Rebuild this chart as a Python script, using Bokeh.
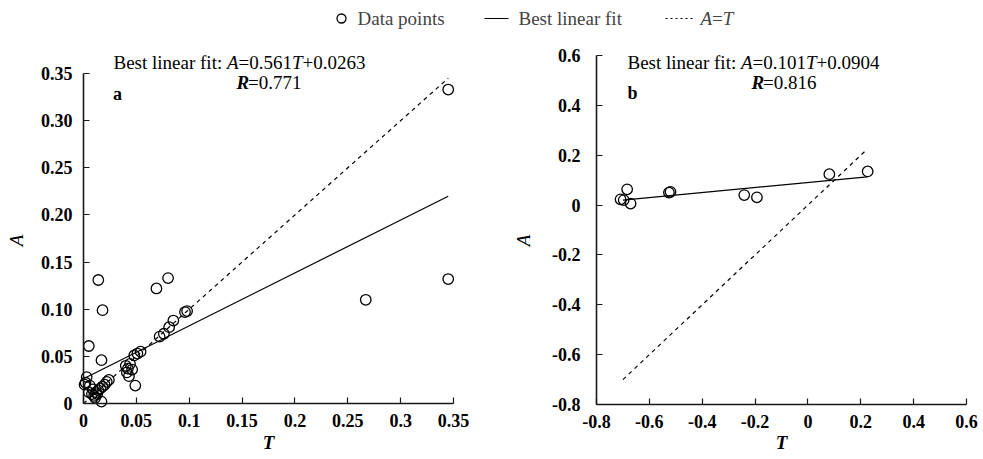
import math
from bokeh.plotting import figure
from bokeh.models import Label, Range1d, FixedTicker
from bokeh.layouts import column, row
from bokeh.embed import file_html
from bokeh.resources import INLINE

# ---------------- data ----------------
# panel a
T_a = [0.345, 0.345, 0.267, 0.080, 0.069, 0.014, 0.018, 0.005, 0.017,
       0.098, 0.096, 0.085, 0.081, 0.076, 0.072,
       0.054, 0.051, 0.048,
       0.040, 0.042, 0.044, 0.046, 0.041, 0.043, 0.049,
       0.002, 0.003, 0.005, 0.008, 0.010, 0.012, 0.014, 0.016, 0.018,
       0.020, 0.022, 0.024, 0.011, 0.013, 0.017, 0.006, 0.009, 0.001]
A_a = [0.333, 0.132, 0.110, 0.133, 0.122, 0.131, 0.099, 0.061, 0.046,
       0.098, 0.097, 0.088, 0.081, 0.074, 0.071,
       0.055, 0.053, 0.051,
       0.040, 0.037, 0.042, 0.036, 0.033, 0.029, 0.019,
       0.022, 0.028, 0.012, 0.010, 0.008, 0.012, 0.014, 0.016, 0.018,
       0.020, 0.023, 0.025, 0.006, 0.010, 0.002, 0.019, 0.015, 0.020]
fit_a = (0.561, 0.0263)       # slope, intercept
R_a = "0.771"
line_T_a = [0.0, 0.345]

# panel b
T_b = [-0.709, -0.697, -0.684, -0.671, -0.526, -0.520, -0.241, -0.193, 0.081, 0.226]
A_b = [0.023, 0.020, 0.063, 0.006, 0.050, 0.053, 0.040, 0.031, 0.124, 0.135]
fit_b = (0.101, 0.0904)
R_b = "0.816"
line_T_b = [-0.70, 0.225]

ticks_a = [0, 0.05, 0.10, 0.15, 0.20, 0.25, 0.30, 0.35]
xlabels_a = ["0", "0.05", "0.1", "0.15", "0.2", "0.25", "0.3", "0.35"]
ylabels_a = ["0", "0.05", "0.10", "0.15", "0.20", "0.25", "0.30", "0.35"]
ticks_b = [-0.8, -0.6, -0.4, -0.2, 0, 0.2, 0.4, 0.6]
labels_b = ["-0.8", "-0.6", "-0.4", "-0.2", "0", "0.2", "0.4", "0.6"]

SERIF = "Liberation Serif"
TFS = 19  # title font px
PAGE_H = 459
HDR_H = 30
SPLIT = 500  # x where the second panel's figure begins

# em widths (Times metrics) for composing mixed-style text
W = {"Best linear fit: ": 5.972, "A": 0.611, "T": 0.556, "R": 0.611}


def em_width(txt):
    if txt in W:
        return W[txt]
    return sum(0.564 if c in "=+" else 0.25 if c == "." else 0.5 for c in txt)


def lin(v0, p0, v1, p1, px):
    return v0 + (px - p0) * (v1 - v0) / (p1 - p0)


def add_label(p, fig_left, ax, ay, txt, style="normal", size=TFS, align="left",
              baseline="alphabetic", angle=0.0):
    p.add_layout(Label(x=ax - fig_left, y=PAGE_H - ay, x_units="screen", y_units="screen",
                       text=txt, text_font=SERIF, text_font_size=f"{size}px",
                       text_font_style=style, text_color="black", angle=angle,
                       text_baseline=baseline, text_align=align))


def seg_labels(p, fig_left, ax, ay, segs, size=TFS):
    x = ax
    for txt, style in segs:
        add_label(p, fig_left, x, ay, txt, style, size)
        x += em_width(txt) * size


def panel(T, A, fit, R, lt, lim, ticks, xl, yl, letter, fig_left, width,
          ax_px, ay_px, ystand, title_x, r_x, letter_xy, Tlab_x, Alab_x):
    v0, v1 = lim
    xr = Range1d(lin(v0, ax_px[0], v1, ax_px[1], fig_left),
                 lin(v0, ax_px[0], v1, ax_px[1], fig_left + width))
    yr = Range1d(lin(v0, ay_px[0], v1, ay_px[1], PAGE_H),
                 lin(v0, ay_px[0], v1, ay_px[1], HDR_H))
    p = figure(width=width, height=PAGE_H - HDR_H, x_range=xr, y_range=yr,
               output_backend="svg", toolbar_location=None, min_border=0)
    p.outline_line_color = None
    p.grid.visible = False
    p.background_fill_color = "white"
    for ax, labels, stand in ((p.xaxis[0], xl, 10), (p.yaxis[0], yl, ystand)):
        ax.fixed_location = v0
        ax.bounds = (v0, v1)
        ax.ticker = FixedTicker(ticks=ticks)
        ax.major_label_overrides = {t: s for t, s in zip(ticks, labels)}
        ax.major_tick_in = 6
        ax.major_tick_out = 0
        ax.minor_tick_line_color = None
        ax.axis_line_color = "#1a1a1a"
        ax.axis_line_width = 1.6
        ax.major_tick_line_color = "#1a1a1a"
        ax.major_tick_line_width = 1.2
        ax.major_label_text_font = SERIF
        ax.major_label_text_font_size = "18px"
        ax.major_label_text_font_style = "bold"
        ax.major_label_text_color = "black"
        ax.major_label_standoff = stand

    slope, icpt = fit
    p.line(lt, [slope * t + icpt for t in lt], line_color="black", line_width=1.2)
    p.line(lt, lt, line_color="black", line_width=1.2, line_dash="4 4")
    p.scatter(T, A, marker="circle", size=10.5, fill_alpha=0, line_color="black",
              line_width=1.3)

    seg_labels(p, fig_left, title_x, 62, [("Best linear fit: ", "normal"), ("A", "italic"),
                                         ("=%.3f" % slope, "normal"), ("T", "italic"),
                                         ("+%.4f" % icpt, "normal")])
    seg_labels(p, fig_left, r_x, 82, [("R", "bold italic"), ("=" + R, "normal")])
    add_label(p, fig_left, letter_xy[0], letter_xy[1], letter, "bold", 18,
              align="center", baseline="middle")
    add_label(p, fig_left, Tlab_x, 442, "T", "bold italic", 19, align="center",
              baseline="middle")
    add_label(p, fig_left, Alab_x, 240, "A", "italic", 19, align="center",
              baseline="middle", angle=math.pi / 2)
    return p


p1 = panel(T_a, A_a, fit_a, R_a, line_T_a, (0, 0.35), ticks_a, xlabels_a, ylabels_a, "a",
           0, SPLIT, (83, 453), (403, 73), 11, 113, 236, (117, 93), 268, 16)
p2 = panel(T_b, A_b, fit_b, R_b, line_T_b, (-0.8, 0.6), ticks_b, labels_b, labels_b, "b",
           SPLIT, 983 - SPLIT, (596, 966), (404, 55), 16, 627, 751, (632, 92), 781, 523)

# ---------------- header legend ----------------
hdr = figure(width=983, height=HDR_H, x_range=Range1d(0, 983), y_range=Range1d(HDR_H, 0),
             output_backend="svg", toolbar_location=None, min_border=0)
hdr.axis.visible = False
hdr.grid.visible = False
hdr.outline_line_color = None
LY = 18
hdr.scatter([341], [LY], marker="circle", size=9, fill_alpha=0, line_color="black",
            line_width=1.3)
hdr.line([484, 508], [LY, LY], line_color="black", line_width=1.2)
hdr.line([665, 692], [LY, LY], line_color="black", line_width=1.2, line_dash="2 3")


def hlabel(x, txt, style="normal"):
    hdr.add_layout(Label(x=x, y=LY, text=txt, text_font=SERIF, text_font_size="19px",
                         text_font_style=style, text_baseline="middle", text_align="left"))


hlabel(357, "Data points")
hlabel(518, "Best linear fit")
hx = 700
for txt, st in (("A", "italic"), ("=", "normal"), ("T", "italic")):
    hlabel(hx, txt, st)
    hx += em_width(txt) * 19

layout = column(hdr, row(p1, p2))
open("out.html", "w").write(file_html(layout, INLINE))
